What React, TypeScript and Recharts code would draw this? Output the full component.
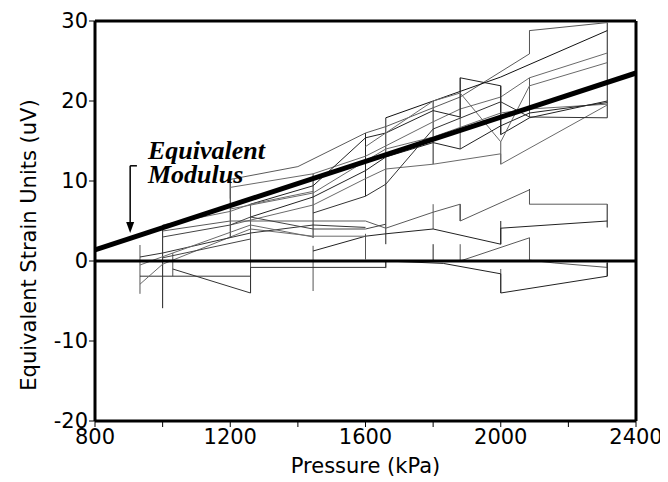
import React from "react";
import {
  LineChart,
  Line,
  XAxis,
  YAxis,
  ReferenceLine,
  ReferenceDot,
} from "recharts";

type Pt = [number, number];

// upper bundle of gauge traces (pressure kPa, strain uV)
const upperA: Pt[] = [[1200, 7.8], [1200, 10.2], [1400, 11.8], [1600, 16], [1660, 16.8], [1880, 20.5], [2085, 25.9], [2085, 28.8], [2315, 29.8]];
const upperB: Pt[] = [[1660, 17.9], [2000, 23], [2315, 28.8]];
const upperC: Pt[] = [[1200, 9.2], [1445, 10.9], [1600, 13.1], [1800, 17.4], [1880, 19], [2000, 20.5], [2085, 22.9], [2315, 26]];
const upperD: Pt[] = [[1260, 7.1], [1445, 9.4], [1600, 15.4], [1660, 16], [1800, 18.8], [1880, 18], [1880, 22.9], [2000, 21.9], [2000, 15.8], [2085, 17.9], [2315, 20]];
const upperE: Pt[] = [[1200, 6.5], [1445, 8.5], [1600, 12.5], [1660, 14], [1800, 15.5], [2000, 18.5], [2085, 19], [2315, 19.6]];
const upperF: Pt[] = [[1260, 5.5], [1445, 8], [1600, 11.3], [1660, 13], [1800, 14.8], [1880, 14], [2000, 16.9], [2085, 18.5], [2315, 19.8]];
const upperG: Pt[] = [[1200, 4.5], [1445, 7], [1600, 10.3], [1660, 11.5], [1800, 12.1], [2000, 13.4], [2000, 12.1], [2315, 19.5]];
const upperH: Pt[] = [[1445, 6], [1600, 8.1], [1660, 9.6], [1800, 16.5], [2000, 19.9], [2085, 18], [2315, 17.9]];
const upperI: Pt[] = [[1600, 14.3], [1800, 20], [1880, 21], [2000, 14.9], [2085, 21.9], [2315, 24.8]];

// low bundle
const lowA: Pt[] = [[1000, 3.75], [1200, 5], [1445, 5], [1600, 5], [1660, 4.1], [1800, 6.1], [1880, 7.1], [1880, 5], [2085, 8.9], [2085, 7.1], [2315, 7.1], [2315, 4.2]];
const lowB: Pt[] = [[1445, 1.25], [1600, 3.1], [1660, 3.4], [1800, 4], [2000, 2.1], [2000, 4.1], [2315, 5]];
const lowC: Pt[] = [[1880, 0], [2085, 2.9], [2085, 0.1], [2160, -0.25], [2315, -0.8], [2315, -0.2]];
const lowD: Pt[] = [[1660, 0], [1830, -0.3], [2000, -1.6], [2000, -4], [2315, -1.9], [2315, -0.2]];
const lowE: Pt[] = [[1030, -1], [1260, -4], [1260, -0.8], [1660, -0.8], [1660, 0]];
const lowF: Pt[] = [[933, -1.9], [1260, -1.9]];
const lowG: Pt[] = [[933, -2.9], [1000, -0.4], [1200, 3], [1260, 4], [1445, 3.1], [1600, 3.1]];
const lowH: Pt[] = [[933, 0.5], [1000, 1], [1260, 3.5], [1445, 4.5], [1600, 4.2]];
const lowI: Pt[] = [[933, -0.5], [1030, 1], [1260, 4.5], [1445, 3], [1445, 2.9]];
const lowJ: Pt[] = [[1000, 3], [1200, 4.5], [1260, 5.5], [1445, 4], [1600, 4], [1660, 4.6]];
const lowK: Pt[] = [[1000, 4.5], [1200, 6.2], [1260, 7.1], [1445, 8.7]];
const lowL: Pt[] = [[1000, 0.4], [1260, 2.75]];

// vertical ranges [pressure, low, high]
const ranges: [number, number, number][] = [
  [933, -4.1, 2], [1000, -5.9, 4.5], [1030, -1.9, 1], [1200, 2.9, 10.2],
  [1260, -4, 7.1], [1445, 2.9, 10.9], [1445, -3.75, 1.9], [1600, 8.1, 16],
  [1600, 0.2, 3.4], [1660, 2.1, 17.9], [1660, -0.9, 0], [1800, 12.1, 20],
  [1800, 4, 7.1], [1800, 0, 2.1], [1880, 14, 22.9], [1880, 5, 7.1],
  [1880, 0, 2.1], [2000, 15.8, 21.9], [2000, 12.1, 14.9], [2000, 2.1, 5],
  [2000, -4, -1], [2085, 25.9, 28.8], [2085, 17.9, 22.9], [2085, 7.1, 9],
  [2085, 0.2, 2.9], [2315, 17.9, 29.8], [2315, 4.2, 7.1], [2315, -1.9, -0.2],
];

// equivalent modulus fit
const modulus: Pt[] = [[800, 1.4], [2400, 23.5]];

const xTicks = [800, 1000, 1200, 1400, 1600, 1800, 2000, 2200, 2400];
const yTicks = [-20, -10, 0, 10, 20, 30];

const traces: { pts: Pt[]; color: string }[] = [
  { pts: upperA, color: "#5a5a5a" },
  { pts: upperB, color: "#111" },
  { pts: upperC, color: "#6a6a6a" },
  { pts: upperD, color: "#222" },
  { pts: upperE, color: "#6a6a6a" },
  { pts: upperF, color: "#222" },
  { pts: upperG, color: "#6a6a6a" },
  { pts: upperH, color: "#333" },
  { pts: upperI, color: "#6a6a6a" },
  { pts: lowA, color: "#5a5a5a" },
  { pts: lowB, color: "#222" },
  { pts: lowC, color: "#5a5a5a" },
  { pts: lowD, color: "#222" },
  { pts: lowE, color: "#333" },
  { pts: lowF, color: "#333" },
  { pts: lowG, color: "#6a6a6a" },
  { pts: lowH, color: "#333" },
  { pts: lowI, color: "#6a6a6a" },
  { pts: lowJ, color: "#444" },
  { pts: lowK, color: "#6a6a6a" },
  { pts: lowL, color: "#444" },
];

const toData = (pts: Pt[]) => pts.map(([p, v]) => ({ p, v }));

const font = "'DejaVu Sans', Verdana, sans-serif";
const serif = "'Liberation Serif', 'Times New Roman', serif";

const ArrowHead = (props: any) => {
  const { cx, cy } = props;
  return <path d={`M${cx - 4},${cy - 11} L${cx + 4},${cy - 11} L${cx},${cy} Z`} fill="#000" />;
};

const YLabel = () => (
  <text
    x={21}
    y={237}
    transform="rotate(-90, 21, 237)"
    textAnchor="middle"
    dominantBaseline="central"
    fontSize={21}
    fontFamily={font}
    fill="#000"
  >
    Equivalent Strain Units (uV)
  </text>
);

export default function App() {
  return (
    <div style={{ position: "relative", width: 660, height: 474 }}>
      <LineChart width={660} height={474} margin={{ top: 13, right: 32, bottom: 0, left: 0 }}>
        <XAxis
          type="number"
          dataKey="p"
          domain={[800, 2400]}
          ticks={xTicks}
          allowDataOverflow
          tickSize={6}
          tickMargin={2}
          height={61}
          stroke="#000"
          strokeWidth={3}
          tick={{ fill: "#000", fontSize: 21, fontFamily: font }}
          tickLine={{ stroke: "#000", strokeWidth: 1 }}
          tickFormatter={(t: number) => (t % 400 === 0 ? String(t) : "")}
          label={{ value: "Pressure (kPa)", position: "insideBottom", offset: 9, fill: "#000", fontSize: 21, fontFamily: font }}
        />
        <YAxis
          type="number"
          dataKey="v"
          domain={[-20, 30]}
          ticks={yTicks}
          allowDataOverflow
          width={87}
          tickSize={6}
          tickMargin={1}
          stroke="#000"
          strokeWidth={3}
          tick={{ fill: "#000", fontSize: 21, fontFamily: font }}
          tickLine={{ stroke: "#000", strokeWidth: 1 }}
          label={{ content: YLabel }}
        />
        <ReferenceLine y={30} stroke="#000" strokeWidth={3} />
        <ReferenceLine x={2400} stroke="#000" strokeWidth={3} />
        {ranges.map(([p, lo, hi], i) => (
          <Line
            key={"r" + i}
            data={[{ p, v: lo }, { p, v: hi }]}
            dataKey="v"
            stroke={i % 2 ? "#222" : "#555"}
            strokeWidth={1}
            dot={false}
            isAnimationActive={false}
          />
        ))}
        {traces.map((t, i) => (
          <Line
            key={"t" + i}
            data={toData(t.pts)}
            dataKey="v"
            stroke={t.color}
            strokeWidth={1}
            dot={false}
            isAnimationActive={false}
          />
        ))}
        <ReferenceLine y={0} stroke="#000" strokeWidth={3} />
        <Line
          data={toData(modulus)}
          dataKey="v"
          stroke="#000"
          strokeWidth={5}
          dot={false}
          isAnimationActive={false}
        />
        <ReferenceLine segment={[{ x: 904, y: 11.9 }, { x: 924, y: 11.9 }]} stroke="#000" strokeWidth={1.5} />
        <ReferenceLine segment={[{ x: 904, y: 11.9 }, { x: 904, y: 4.5 }]} stroke="#000" strokeWidth={1.5} />
        <ReferenceDot x={904} y={3.5} r={0} shape={ArrowHead} />
      </LineChart>
      <svg
        width={660}
        height={474}
        style={{ position: "absolute", left: 0, top: 0, pointerEvents: "none" }}
      >
        <text x={140} y={151} fontFamily={serif} fontStyle="italic" fontWeight="bold" fontSize={26} fill="#000">
          Equivalent
        </text>
        <text x={140} y={175} fontFamily={serif} fontStyle="italic" fontWeight="bold" fontSize={26} fill="#000">
          Modulus
        </text>
      </svg>
    </div>
  );
}
